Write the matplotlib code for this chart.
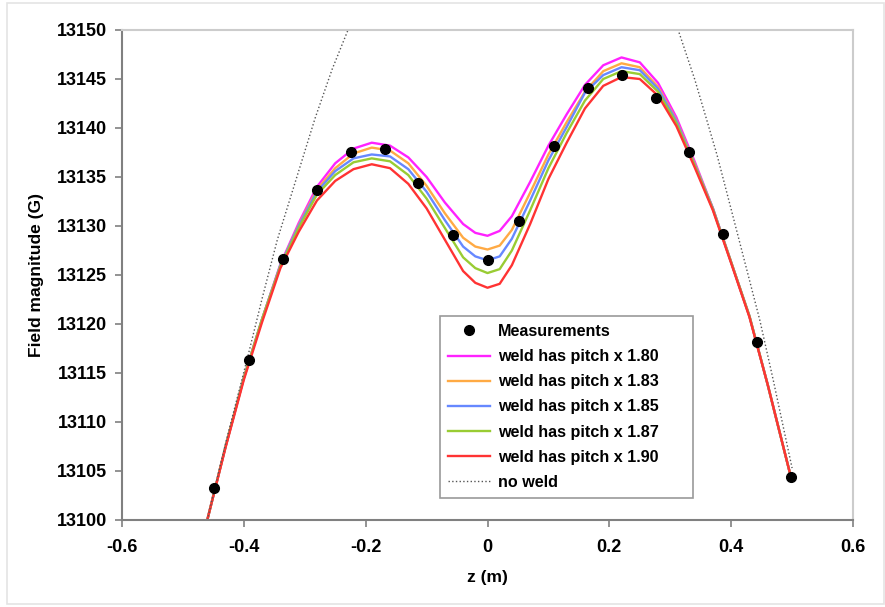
import matplotlib.pyplot as plt
from matplotlib.patches import Rectangle

# measured points
meas_z = [-0.449, -0.392, -0.336, -0.280, -0.224, -0.168, -0.114, -0.057, 0.0,
          0.052, 0.109, 0.165, 0.221, 0.277, 0.331, 0.387, 0.443, 0.498]
meas_b = [13103.3, 13116.3, 13126.6, 13133.7, 13137.6, 13137.9, 13134.4, 13129.1, 13126.5,
          13130.5, 13138.2, 13144.1, 13145.4, 13143.1, 13137.6, 13129.2, 13118.2, 13104.4]

# simulated curves, common z grid
sim_z = [-0.46, -0.43, -0.40, -0.37, -0.34, -0.31, -0.28, -0.25, -0.22, -0.19, -0.16, -0.13,
         -0.10, -0.07, -0.04, -0.02, 0.0, 0.02, 0.04, 0.07, 0.10, 0.13, 0.16, 0.19, 0.22,
         0.25, 0.28, 0.31, 0.34, 0.37, 0.40, 0.43, 0.46, 0.498]
pitch_180 = [13100.0, 13107.5, 13114.5, 13120.5, 13126.1, 13130.3, 13134.0, 13136.4, 13137.9,
             13138.5, 13138.2, 13137.0, 13135.0, 13132.4, 13130.2, 13129.3, 13129.0, 13129.5,
             13131.0, 13134.5, 13138.2, 13141.4, 13144.4, 13146.4, 13147.2, 13146.7, 13144.6,
             13141.1, 13136.6, 13131.8, 13126.3, 13120.8, 13113.8, 13104.4]
pitch_183 = [13100.0, 13107.5, 13114.5, 13120.5, 13126.0, 13130.1, 13133.7, 13135.9, 13137.4,
             13138.0, 13137.7, 13136.4, 13134.1, 13131.3, 13128.8, 13127.9, 13127.6, 13128.0,
             13129.6, 13133.4, 13137.3, 13140.6, 13143.7, 13145.8, 13146.6, 13146.2, 13144.2,
             13140.8, 13136.4, 13131.8, 13126.3, 13120.8, 13113.8, 13104.4]
pitch_185 = [13100.0, 13107.5, 13114.5, 13120.5, 13126.0, 13130.0, 13133.5, 13135.6, 13136.9,
             13137.3, 13137.1, 13135.8, 13133.5, 13130.6, 13127.9, 13126.9, 13126.5, 13126.9,
             13128.7, 13132.6, 13136.7, 13140.1, 13143.6, 13145.4, 13146.2, 13145.9, 13144.0,
             13140.7, 13136.3, 13131.8, 13126.3, 13120.8, 13113.8, 13104.4]
pitch_187 = [13100.0, 13107.5, 13114.5, 13120.5, 13125.9, 13129.8, 13133.2, 13135.2, 13136.5,
             13136.9, 13136.6, 13135.2, 13132.8, 13129.8, 13126.8, 13125.7, 13125.2, 13125.6,
             13127.5, 13131.6, 13135.9, 13139.5, 13142.8, 13145.0, 13145.8, 13145.5, 13143.7,
             13140.5, 13136.2, 13131.7, 13126.3, 13120.8, 13113.8, 13104.4]
pitch_190 = [13100.0, 13107.4, 13114.3, 13120.2, 13125.7, 13129.4, 13132.6, 13134.6, 13135.8,
             13136.3, 13135.9, 13134.3, 13131.8, 13128.6, 13125.4, 13124.2, 13123.7, 13124.1,
             13126.0, 13130.2, 13134.8, 13138.5, 13142.0, 13144.3, 13145.2, 13145.0, 13143.3,
             13140.2, 13136.0, 13131.6, 13126.2, 13120.7, 13113.8, 13104.4]

# no weld curve (goes above the plot top in the middle)
noweld_z = [-0.46, -0.43, -0.393, -0.370, -0.345, -0.31, -0.283, -0.255, -0.229, -0.20,
            0.28, 0.313, 0.34, 0.36, 0.377, 0.40, 0.447, 0.469, 0.50]
noweld_b = [13100.0, 13107.8, 13116.8, 13122.6, 13128.6, 13135.6, 13141.0, 13146.0, 13150.0, 13154.5,
            13154.5, 13150.0, 13145.0, 13140.8, 13137.2, 13131.7, 13120.4, 13114.3, 13105.3]

curves = [
    (pitch_180, '#FF22FF', 'weld has pitch x 1.80'),
    (pitch_183, '#FFAA44', 'weld has pitch x 1.83'),
    (pitch_185, '#6688FF', 'weld has pitch x 1.85'),
    (pitch_187, '#99CC33', 'weld has pitch x 1.87'),
    (pitch_190, '#FF3333', 'weld has pitch x 1.90'),
]

plt.rcParams['font.family'] = 'Liberation Sans'
plt.rcParams['font.weight'] = 'bold'

fig = plt.figure(figsize=(8.85, 6.07), dpi=100)
fig.patches.append(Rectangle((7 / 885, 3 / 607), 877 / 885, 601 / 607, transform=fig.transFigure,
                             fill=False, edgecolor='#e4e4e4', linewidth=1.2))
ax = fig.add_axes([122 / 885, 1 - 520 / 607, 731 / 885, 490 / 607])

ax.plot(meas_z, meas_b, 'o', color='black', markersize=7, label='Measurements', zorder=5)
for vals, col, lab in curves:
    ax.plot(sim_z, vals, color=col, linewidth=1.7, label=lab)
ax.plot(noweld_z, noweld_b, ':', color='#555555', linewidth=1.0, label='no weld')

ax.set_xlim(-0.6, 0.6)
ax.set_ylim(13100, 13150)
ax.set_xticks([-0.6, -0.4, -0.2, 0.0, 0.2, 0.4, 0.6])
ax.set_xticklabels(['-0.6', '-0.4', '-0.2', '0', '0.2', '0.4', '0.6'])
ax.set_yticks(range(13100, 13151, 5))
ax.tick_params(axis='both', labelsize=13, direction='out', length=5, color='#808080', width=1.2)
ax.tick_params(axis='y', pad=6)
ax.tick_params(axis='x', pad=9)

for s in ['left', 'bottom']:
    ax.spines[s].set_color('#808080')
    ax.spines[s].set_linewidth(1.5)
for s in ['top', 'right']:
    ax.spines[s].set_color('#cccccc')
    ax.spines[s].set_linewidth(1.5)

ax.set_xlabel('z (m)', fontsize=12.5, fontweight='bold', labelpad=10)
ax.set_ylabel('Field magnitude (G)', fontsize=12.5, fontweight='bold', labelpad=9)

leg = ax.legend(loc='lower left', bbox_to_anchor=(0.435, 0.045, 0.346, 0.363), mode='expand',
                frameon=True, fancybox=False, edgecolor='#808080', fontsize=11.6,
                handlelength=2.6, handletextpad=0.5, borderpad=0.5, labelspacing=0.63,
                borderaxespad=0)
leg.get_frame().set_linewidth(1.2)

plt.savefig('out.png', dpi=100)
